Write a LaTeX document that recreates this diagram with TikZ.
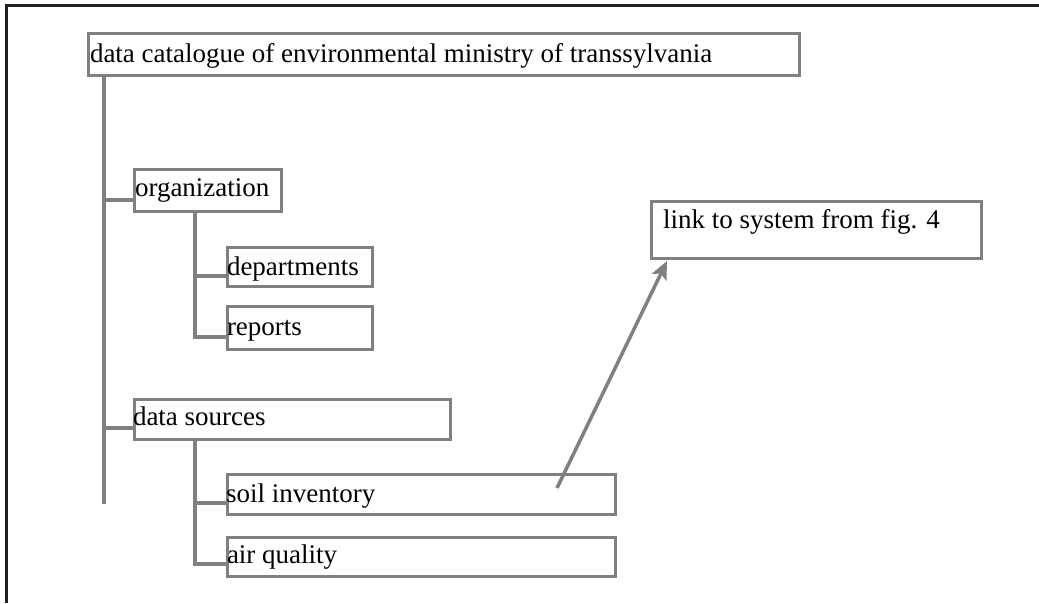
\documentclass[tikz,border=0pt]{standalone}
\usepackage{fontspec}
\setmainfont{Liberation Serif}
\usetikzlibrary{calc,arrows.meta}
\definecolor{boxgrey}{HTML}{808080}
\definecolor{framegrey}{HTML}{202020}
\tikzset{
  catbox/.style={draw=boxgrey, line width=3.5pt, inner sep=0pt, outer sep=0pt,
    anchor=north west, fill=white},
  lbl/.style={anchor=base west, inner sep=0pt, outer sep=0pt,
    font=\fontsize{27}{32}\selectfont},
  tree/.style={draw=boxgrey, line width=3.5pt},
  pointer/.style={draw=boxgrey, line width=3.5pt,
    -{Stealth[length=18pt, width=16pt, inset=4pt]}},
  frameline/.style={draw=framegrey, line width=2.2pt}
}
\begin{document}
\begin{tikzpicture}[x=1pt, y=-1pt]
  \useasboundingbox (0,0) rectangle (1039,603);

  % outer frame (left and top edges only)
  \draw[frameline] (6.5,603) -- (6.5,5.5) -- (1039,5.5);

  % boxes
  \node[catbox, minimum width=711pt, minimum height=42pt] (cat)  at (88.5,33.5)  {};
  \node[catbox, minimum width=147pt, minimum height=42pt] (org)  at (134.5,169.5) {};
  \node[catbox, minimum width=145pt, minimum height=39pt] (dep)  at (227.5,247.5) {};
  \node[catbox, minimum width=145pt, minimum height=43pt] (rep)  at (227.5,306.5) {};
  \node[catbox, minimum width=316pt, minimum height=40pt] (ds)   at (134.5,399.5) {};
  \node[catbox, minimum width=388pt, minimum height=40pt] (soil) at (227.5,474.5) {};
  \node[catbox, minimum width=388pt, minimum height=39pt] (air)  at (227.5,537.5) {};
  \node[catbox, minimum width=330pt, minimum height=57pt] (link) at (651.5,201.5) {};

  % box texts
  \node[lbl] (t-cat)  at (90,62)   {data catalogue of environmental ministry of transsylvania};
  \node[lbl] (t-org)  at (135,196) {organization};
  \node[lbl] (t-dep)  at (227,275) {departments};
  \node[lbl] (t-rep)  at (227,335) {reports};
  \node[lbl] (t-ds)   at (133,425) {data sources};
  \node[lbl] (t-soil) at (226,502) {soil inventory};
  \node[lbl] (t-air)  at (227,563) {air quality};
  \node[lbl] (t-link) at (663,228) {link to system from fig. 4};

  % main trunk and its branches
  \coordinate (trunkend) at (104,504);
  \coordinate (j-org) at (104,200);
  \coordinate (j-ds)  at (104,428);
  \draw[tree] (cat.south -| trunkend) -- (trunkend);
  \draw[tree] (j-org) -- (j-org -| org.west);
  \draw[tree] (j-ds) -- (j-ds -| ds.west);

  % organization subtree
  \coordinate (s-org) at (195,337);
  \coordinate (j-dep) at (195,276);
  \draw[tree] (org.south -| s-org) -- (s-org) -- (s-org -| rep.west);
  \draw[tree] (j-dep) -- (j-dep -| dep.west);

  % data sources subtree
  \coordinate (s-ds) at (195,564);
  \coordinate (j-soil) at (195,503);
  \draw[tree] (ds.south -| s-ds) -- (s-ds) -- (s-ds -| air.west);
  \draw[tree] (j-soil) -- (j-soil -| soil.west);

  % cross reference
  \draw[pointer] ($(soil.north west)+(329.5,13.5)$) -- ($(link.south west)+(15.5,2.5)$);
\end{tikzpicture}
\end{document}
